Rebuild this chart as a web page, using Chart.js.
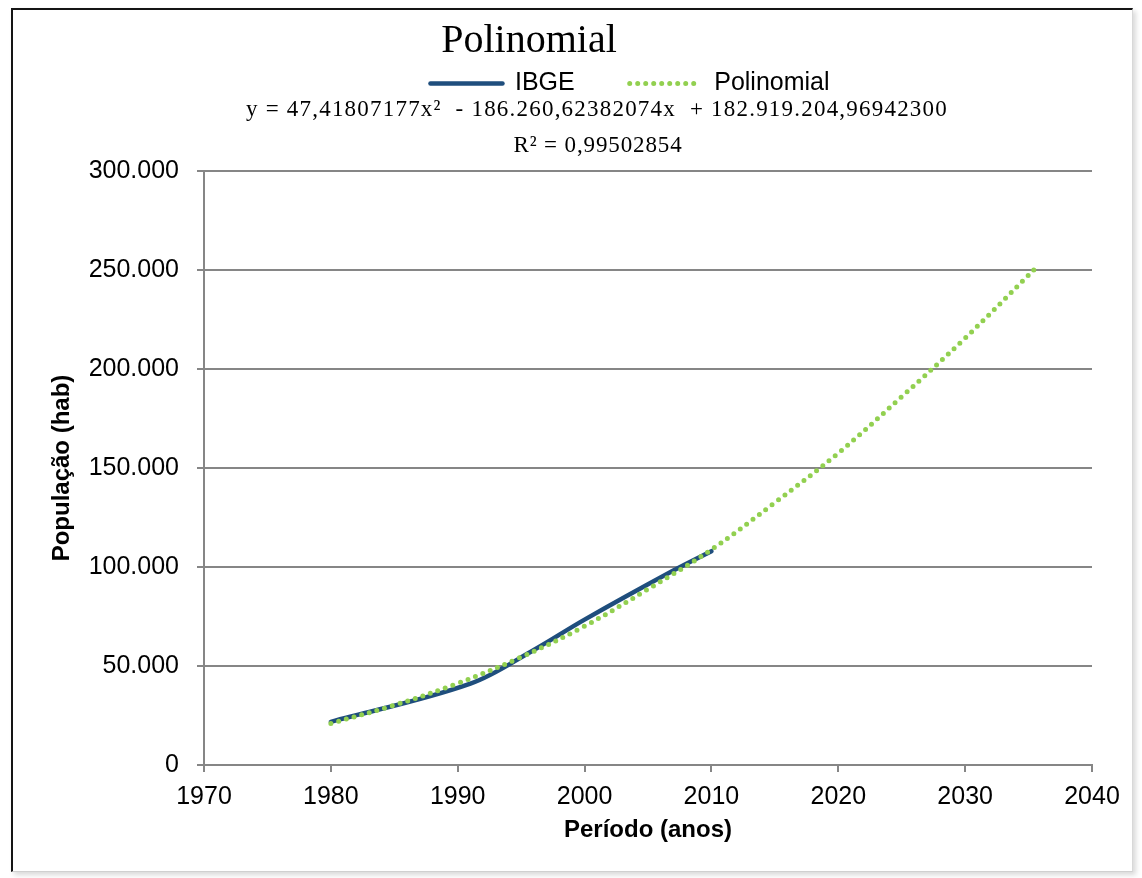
<!DOCTYPE html>
<html lang="pt-BR">
<head>
<meta charset="utf-8">
<title>Polinomial</title>
<script src="https://cdn.jsdelivr.net/npm/chart.js@4.4.1/dist/chart.umd.min.js"></script>
<style>
	html, body { margin: 0; padding: 0; background: #fff; }
	#moldura {
		position: absolute; left: 11px; top: 8px; width: 1122px; height: 864px; box-sizing: border-box;
		border-left: 2px solid #151515; border-top: 2px solid #151515;
		border-right: 1px solid #d8d8d8; border-bottom: 1px solid #d0d0d0;
		box-shadow: 3px 3px 5px rgba(0, 0, 0, 0.15);
	}
	#caixa { position: absolute; left: 0; top: 0; width: 1142px; height: 878px; }
</style>
</head>
<body>
<div id="moldura"></div>
<div id="caixa"><canvas id="myChart"></canvas></div>
<script>
	// dados (IBGE)
	var anosIBGE = [1980, 1991, 1996, 2000, 2007, 2010];
	var popIBGE = [21800, 41100, 58100, 73400, 98200, 108000];

	// linha de tendência polinomial
	var anosPoli = [1980, 1985, 1990, 1995, 2000, 2005, 2010, 2015, 2020, 2025, 2030, 2035, 2035.6];
	var popPoli = [21000, 30200, 41200, 54500, 70100, 88800, 108800, 132500, 157500, 186000, 215600, 247400, 251300];

	// rótulos dos eixos
	var ticksX = [1970, 1980, 1990, 2000, 2010, 2020, 2030, 2040];
	var ticksY = [0, 50000, 100000, 150000, 200000, 250000, 300000];

	var titulo = 'Polinomial';
	var equacao = 'y = 47,41807177x²  - 186.260,62382074x  + 182.919.204,96942300';
	var textoR2 = 'R² = 0,99502854';

	var fonteSans = '"Liberation Sans", Arial, sans-serif';
	var fonteSerif = '"Liberation Serif", "Times New Roman", serif';

	function pares(xs, ys) {
		return xs.map(function(x, i) { return { x: x, y: ys[i] }; });
	}

	// 300000 -> 300.000
	function formataMilhar(v) {
		return String(v).replace(/\B(?=(\d{3})+(?!\d))/g, '.');
	}

	// texto com espaçamento entre letras, para ocupar a largura do original
	function escreveEsticado(ctx, txt, cx, y, largura) {
		var natural = ctx.measureText(txt).width;
		if ('letterSpacing' in ctx) {
			ctx.letterSpacing = Math.max(0, (largura - natural) / txt.length) + 'px';
		}
		ctx.fillText(txt, cx, y);
		if ('letterSpacing' in ctx) ctx.letterSpacing = '0px';
	}

	// título, equação e R²
	var cabecalho = {
		id: 'cabecalho',
		afterDraw: function(chart) {
			var ctx = chart.ctx;
			ctx.save();
			ctx.fillStyle = '#000';
			ctx.textAlign = 'center';
			ctx.textBaseline = 'alphabetic';
			ctx.font = '40px ' + fonteSerif;
			ctx.fillText(titulo, 529, 52);
			ctx.font = '23px ' + fonteSerif;
			escreveEsticado(ctx, equacao, 597, 116, 702);
			escreveEsticado(ctx, textoR2, 598, 152, 169);
			ctx.restore();
		}
	};

	// a legenda do original não fica centrada no gráfico
	var ajusteLegenda = {
		id: 'ajusteLegenda',
		afterLayout: function(chart) {
			var lg = chart.legend;
			if (!lg) return;
			lg.left -= 18; lg.right -= 18;
			lg.top -= 65; lg.bottom -= 65;
		}
	};

	var data = {
		datasets: [{
			label: 'IBGE',
			data: pares(anosIBGE, popIBGE),
			borderColor: '#1F4E7D',
			backgroundColor: '#1F4E7D',
			borderWidth: 4.5,
			borderCapStyle: 'round',
			showLine: true,
			pointRadius: 0,
			tension: 0.35,
			order: 2
		}, {
			label: 'Polinomial',
			data: pares(anosPoli, popPoli),
			borderColor: '#92D050',
			backgroundColor: '#92D050',
			borderWidth: 5,
			borderDash: [0, 8],
			borderCapStyle: 'round',
			showLine: true,
			pointRadius: 0,
			tension: 0.35,
			order: 1
		}]
	};

	var options = {
		responsive: true,
		maintainAspectRatio: false,
		animation: false,
		layout: { padding: { top: 81, right: 50, bottom: 0, left: 0 } },
		plugins: {
			tooltip: { enabled: false },
			legend: {
				display: true,
				position: 'top',
				fullSize: false,
				labels: {
					usePointStyle: true,
					pointStyleWidth: 72,
					padding: 55,
					color: '#000',
					font: { family: fonteSans, size: 25 },
					generateLabels: function(chart) {
						return chart.data.datasets.map(function(ds, i) {
							return {
								text: ds.label,
								fillStyle: ds.borderColor,
								strokeStyle: ds.borderColor,
								lineWidth: ds.borderWidth,
								lineDash: ds.borderDash || [],
								lineCap: ds.borderCapStyle,
								pointStyle: 'line',
								hidden: false,
								fontColor: '#000',
								datasetIndex: i
							};
						});
					}
				}
			}
		},
		scales: {
			x: {
				type: 'linear',
				min: 1970,
				max: 2040,
				afterBuildTicks: function(s) { s.ticks = ticksX.map(function(v) { return { value: v }; }); },
				afterFit: function(s) { s.height = 113; },
				ticks: {
					callback: function(v) { return String(v); },
					color: '#000',
					font: { family: fonteSans, size: 25 },
					padding: 10,
					maxRotation: 0,
					autoSkip: false
				},
				grid: { drawOnChartArea: false, drawTicks: true, tickLength: 7, color: '#868686', lineWidth: 2 },
				border: { display: true, color: '#868686', width: 2 },
				title: {
					display: true,
					text: 'Período (anos)',
					color: '#000',
					font: { family: fonteSans, size: 24, weight: 'bold' },
					padding: { top: 0, bottom: 33 }
				}
			},
			y: {
				min: 0,
				max: 300000,
				afterBuildTicks: function(s) { s.ticks = ticksY.map(function(v) { return { value: v }; }); },
				afterFit: function(s) { s.width = 204; },
				ticks: {
					callback: formataMilhar,
					color: '#000',
					font: { family: fonteSans, size: 25 },
					padding: 18
				},
				grid: { color: '#868686', lineWidth: 2, drawTicks: true, tickLength: 7 },
				border: { display: true, color: '#868686', width: 2 },
				title: {
					display: true,
					text: 'População (hab)',
					color: '#000',
					font: { family: fonteSans, size: 24, weight: 'bold' },
					padding: { top: 48, bottom: 0 }
				}
			}
		}
	};

	var ctx = document.getElementById('myChart').getContext('2d');

	var myChart = new Chart(ctx, {
		type: 'scatter',
		data: data,
		options: options,
		plugins: [cabecalho, ajusteLegenda]
	});
</script>
</body>
</html>
